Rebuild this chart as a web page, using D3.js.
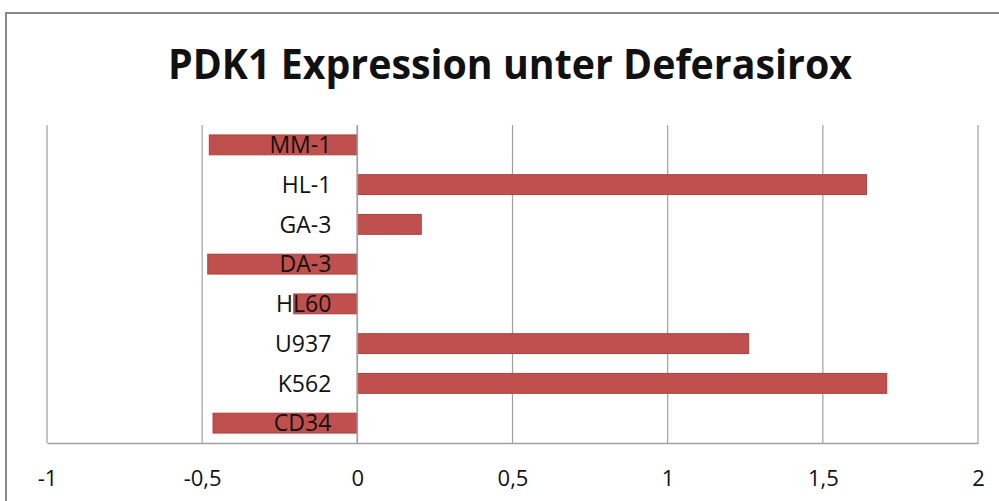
<!DOCTYPE html>
<html>
<head>
<meta charset="utf-8">
<script src="https://cdn.jsdelivr.net/npm/d3@7/dist/d3.min.js"></script>
<style>
  html, body { margin: 0; padding: 0; background: #fff; }
  svg { display: block; }
  text { font-family: "Open Sans", "Noto Sans", sans-serif; fill: #111; }
</style>
</head>
<body>
<svg id="chart"></svg>
<script>
const categories = ['MM-1', 'HL-1', 'GA-3', 'DA-3', 'HL60', 'U937', 'K562', 'CD34']
const values = [-0.477, 1.641, 0.206, -0.482, -0.205, 1.261, 1.706, -0.465]
const tickValues = [-1, -0.5, 0, 0.5, 1, 1.5, 2]
const tickLabels = ['-1', '-0,5', '0', '0,5', '1', '1,5', '2']
const title = 'PDK1 Expression unter Deferasirox'

const width = 999
const height = 501
const margin = { top: 125, right: 20, bottom: 58, left: 47 }

const svg = d3.select('#chart')
  .attr('width', width)
  .attr('height', height)

// outer chart frame, runs off the right and bottom edge like the screenshot
svg.append('rect')
  .attr('x', 6)
  .attr('y', 13)
  .attr('width', width + 20)
  .attr('height', height + 20)
  .attr('fill', 'none')
  .attr('stroke', '#8a8a8a')
  .attr('stroke-width', 2)

const x = d3.scaleLinear()
  .domain([-1, 2])
  .range([margin.left, margin.left + 931])

const y = d3.scaleBand()
  .domain(categories)
  .range([margin.top, height - margin.bottom])
  .paddingInner(0.5)
  .paddingOuter(0.25)

// title, squeezed to the narrow look of the original
const titleText = svg.append('text')
  .attr('x', 510)
  .attr('y', 79)
  .attr('text-anchor', 'middle')
  .attr('font-size', '41px')
  .attr('font-weight', 'bold')
  .text(title)
titleText.attr('textLength', 684).attr('lengthAdjust', 'spacingAndGlyphs')

// vertical gridlines
svg.append('g')
  .selectAll('line')
  .data(tickValues)
  .enter().append('line')
  .attr('x1', d => x(d))
  .attr('x2', d => x(d))
  .attr('y1', margin.top)
  .attr('y2', height - margin.bottom)
  .attr('stroke', '#a0a0a0')
  .attr('stroke-width', 1.2)

// bars
svg.append('g')
  .selectAll('rect')
  .data(values)
  .enter().append('rect')
  .attr('x', d => x(Math.min(0, d)))
  .attr('y', (d, i) => y(categories[i]))
  .attr('width', d => Math.abs(x(d) - x(0)))
  .attr('height', y.bandwidth())
  .attr('fill', '#c0504d')
  .attr('stroke', '#a8423f')
  .attr('stroke-width', 1)

// bottom value axis
const xAxis = svg.append('g')
  .attr('transform', `translate(0, ${height - margin.bottom})`)
  .call(d3.axisBottom(x)
    .tickValues(tickValues)
    .tickFormat((d, i) => tickLabels[i])
    .tickSize(0)
    .tickPadding(27))
xAxis.select('.domain').attr('stroke', '#a0a0a0').attr('stroke-width', 1.5)
xAxis.selectAll('text')
  .attr('font-size', '22px')
  .attr('fill', '#111')
  .attr('font-family', '"Open Sans", sans-serif')

// category axis sits at zero
svg.append('line')
  .attr('x1', x(0))
  .attr('x2', x(0))
  .attr('y1', margin.top)
  .attr('y2', height - margin.bottom)
  .attr('stroke', '#a0a0a0')
  .attr('stroke-width', 1.5)

// category labels drawn on top of the bars
svg.append('g')
  .selectAll('text')
  .data(categories)
  .enter().append('text')
  .attr('x', x(0) - 26)
  .attr('y', d => y(d) + y.bandwidth() / 2)
  .attr('dy', '0.36em')
  .attr('text-anchor', 'end')
  .attr('font-size', '23px')
  .text(d => d)
</script>
</body>
</html>
